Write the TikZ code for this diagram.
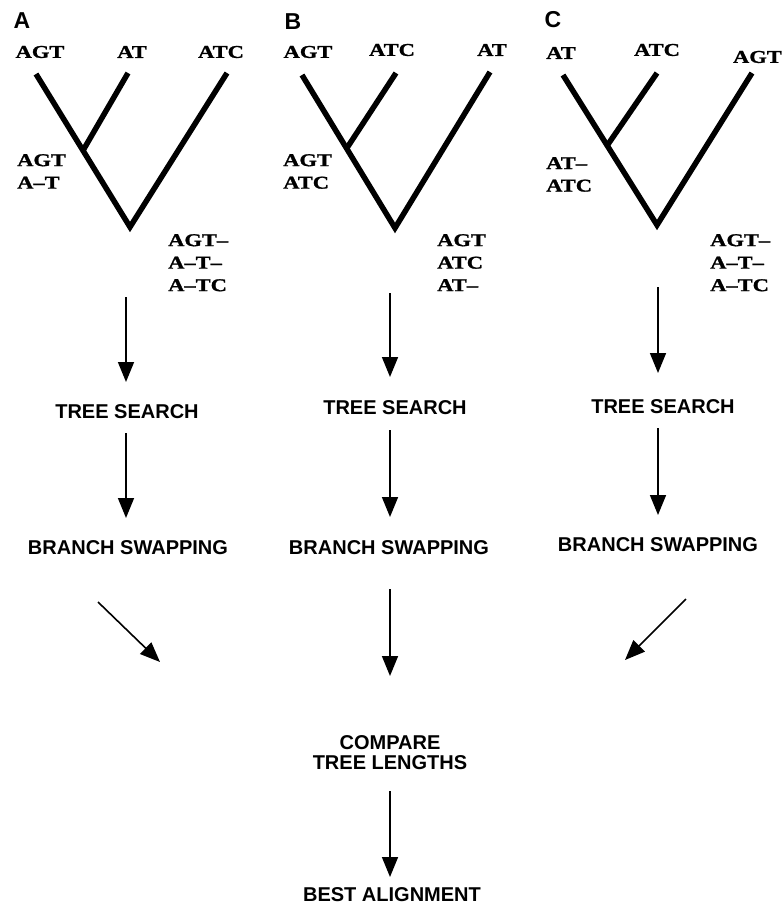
\documentclass[tikz,border=0pt]{standalone}
\usepackage{fontspec}
\setmainfont{Liberation Sans}
\newfontfamily\seqfont[FakeStretch=1.25, BoldFeatures={FakeBold=1.2}]{Liberation Serif}
\usetikzlibrary{arrows.meta,calc}
\begin{document}
\begin{tikzpicture}[x=1pt,y=-1pt,
  branch/.style={line width=5.5pt, line join=miter, line cap=butt},
  flow/.style={line width=1.6pt, -{Triangle[width=16pt,length=20pt]}},
  seq/.style={font=\seqfont\bfseries\fontsize{18}{22.5}\selectfont, inner sep=0pt},
  seqblock/.style={seq, align=left, anchor=north west},
  steplabel/.style={font=\bfseries\fontsize{20}{20}\selectfont, inner sep=0pt, align=center},
  panel/.style={font=\bfseries\fontsize{23}{25}\selectfont, inner sep=0pt}]
\useasboundingbox (0,0) rectangle (784,906);

% ---------- panel letters
\node[panel] (pA) at (22,21) {A};
\node[panel] (pB) at (293,22) {B};
\node[panel] (pC) at (553,20) {C};

% ---------- tree A
\coordinate (Alt) at (36,74);
\coordinate (Amt) at (128,73);
\coordinate (Abot) at (130,227);
\coordinate (Art) at (227,73);
\coordinate (Ajn) at ($(Alt)!0.5!(Abot)$);
\draw[branch] (Alt) -- (Abot) -- (Art);
\draw[branch] (Amt) -- (Ajn);
\node[seq] (Al1) at (40,52) {AGT};
\node[seq] (Al2) at (132,52) {AT};
\node[seq] (Al3) at (221,52) {ATC};
\node[seqblock] (Amid) at (17,154) {AGT\\A–T};
\node[seqblock] (Aaln) at (168,234) {AGT–\\A–T–\\A–TC};

% ---------- tree B
\coordinate (Blt) at (302,75);
\coordinate (Bmt) at (396,73);
\coordinate (Bbot) at (395,228);
\coordinate (Brt) at (490,72);
\coordinate (Bjn) at ($(Blt)!0.48!(Bbot)$);
\draw[branch] (Blt) -- (Bbot) -- (Brt);
\draw[branch] (Bmt) -- (Bjn);
\node[seq] (Bl1) at (308,52) {AGT};
\node[seq] (Bl2) at (392,50) {ATC};
\node[seq] (Bl3) at (492,50) {AT};
\node[seqblock] (Bmid) at (283,154) {AGT\\ATC};
\node[seqblock] (Baln) at (437,234) {AGT\\ATC\\AT–};

% ---------- tree C
\coordinate (Clt) at (563,75);
\coordinate (Cmt) at (657,73);
\coordinate (Cbot) at (657,225);
\coordinate (Crt) at (752,73);
\coordinate (Cjn) at ($(Clt)!0.47!(Cbot)$);
\draw[branch] (Clt) -- (Cbot) -- (Crt);
\draw[branch] (Cmt) -- (Cjn);
\node[seq] (Cl1) at (561,53) {AT};
\node[seq] (Cl2) at (657,50) {ATC};
\node[seq, anchor=east] (Cl3) at (782,57) {AGT};
\node[seqblock] (Cmid) at (546,157) {AT–\\ATC};
\node[seqblock] (Caln) at (710,234) {AGT–\\A–T–\\A–TC};

% ---------- step labels
\node[steplabel] (tsA) at (127,412) {TREE SEARCH};
\node[steplabel] (tsB) at (395,408) {TREE SEARCH};
\node[steplabel] (tsC) at (663,407) {TREE SEARCH};
\node[steplabel] (bsA) at (128,548) {BRANCH SWAPPING};
\node[steplabel] (bsB) at (389,548) {BRANCH SWAPPING};
\node[steplabel] (bsC) at (658,545) {BRANCH SWAPPING};
\node[steplabel] (cmp) at (390,753) {COMPARE\\TREE LENGTHS};
\node[steplabel] (best) at (392,895) {BEST ALIGNMENT};

% ---------- arrows
\coordinate (fA) at (126,297);
\coordinate (fB) at (390,293);
\coordinate (fC) at (658,287);
\draw[flow] (fA) -- (126,382);
\draw[flow] (fB) -- (390,377);
\draw[flow] (fC) -- (658,373);

\draw[flow] (tsA.south -| fA) ++(0,14) -- (126,518);
\draw[flow] (tsB.south -| fB) ++(0,15) -- (390,517);
\draw[flow] (tsC.south -| fC) ++(0,14) -- (658,515);

\coordinate (dA) at (98,602);
\coordinate (eA) at (160,662);
\coordinate (dC) at (686,599);
\coordinate (eC) at (625,660);
\draw[flow] (dA) -- (eA);
\draw[flow] (dC) -- (eC);
\draw[flow] (bsB.south -| fB) ++(0,34) -- (390,676);

\draw[flow] (cmp.south -| fB) ++(0,21) -- (390,877);
\end{tikzpicture}
\end{document}
